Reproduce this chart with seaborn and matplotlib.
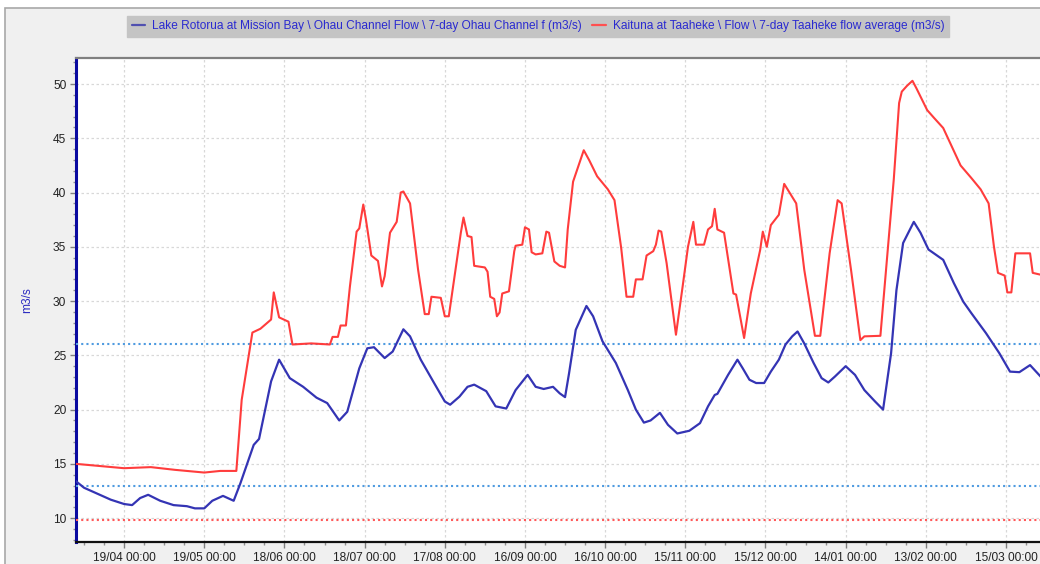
import numpy as np
import pandas as pd
import matplotlib
matplotlib.use("Agg")
import matplotlib.pyplot as plt
import matplotlib.dates as mdates
from matplotlib.patches import Rectangle
from matplotlib.lines import Line2D
import seaborn as sns

# ---------------- data ----------------
start_date = "2017-04-01"

ohau_days = [0, 3, 8, 13, 18, 21, 24, 27, 31.5, 36.5, 41.5, 44.5, 48, 51, 55, 59, 61.5, 66.5, 68.5, 73,
             76, 80, 85, 90, 94, 98.5, 101.5, 106, 109, 111.5, 115.5, 118.5, 122.5, 125, 129, 134, 138,
             140, 143.5, 146.5, 149, 153.5, 157, 161, 164.5, 169, 172, 175, 178.5, 181, 183, 184.5, 187,
             191, 193.5, 197, 202, 206.5, 209.5, 212.5, 215, 218.5, 221.5, 225, 229.5, 233.5, 236.5,
             239, 240, 244, 247.5, 249.5, 252, 254.5, 257.5, 260, 263, 265.5, 268, 270, 272.5, 276, 279,
             281.5, 284, 288, 291.5, 295, 299, 302, 305, 307, 309.5, 313.5, 316, 319, 324.5, 328.5, 332,
             335, 340.5, 345.5, 349.5, 353, 357, 361.5]
ohau_flow = [13.4, 12.8, 12.25, 11.7, 11.3, 11.2, 11.85, 12.15, 11.6, 11.2, 11.1, 10.9, 10.9, 11.6, 12.05,
             11.6, 13.2, 16.75, 17.3, 22.6, 24.6, 22.9, 22.1, 21.1, 20.6, 19.0, 19.8, 23.8, 25.65, 25.75,
             24.75, 25.35, 27.4, 26.75, 24.6, 22.45, 20.75, 20.45, 21.2, 22.1, 22.3, 21.7, 20.3, 20.1,
             21.8, 23.2, 22.1, 21.9, 22.1, 21.5, 21.15, 23.35, 27.35, 29.55, 28.6, 26.3, 24.3, 21.8, 20.0,
             18.8, 19.0, 19.7, 18.6, 17.8, 18.05, 18.75, 20.3, 21.35, 21.45, 23.2, 24.6, 23.8, 22.75,
             22.45, 22.45, 23.5, 24.6, 26.0, 26.75, 27.2, 26.1, 24.3, 22.9, 22.5, 23.05, 24.0, 23.2, 21.8,
             20.75, 20.0, 25.2, 31.0, 35.35, 37.3, 36.3, 34.75, 33.8, 31.65, 29.95, 28.9, 27.05, 25.2,
             23.5, 23.45, 24.1, 22.9]

kaituna_days = [0, 18, 28, 37, 48, 54, 60, 62, 66, 69, 73, 74, 76, 79.5, 81, 88, 95, 96, 98, 99, 101,
                102.5, 105, 106, 107.5, 108.5, 110.5, 113, 114.5, 115.5, 117.5, 120, 121.5, 122.5, 125,
                128, 130.5, 132, 133, 136.5, 138, 139.5, 141.5, 144, 145, 146.5, 148, 149, 153, 154, 155,
                156.5, 157.5, 158.5, 159.5, 162, 164, 164.5, 167, 168, 169.5, 170.5, 172, 174.5, 176, 177,
                179, 181, 183, 184, 186, 190, 192, 195, 199, 201.5, 204, 206, 208.5, 209.5, 212, 213.5,
                216, 217, 218, 219, 221, 224.5, 227, 229, 231, 232, 235, 236.5, 238, 239, 240, 242.5, 246,
                247, 250, 252.5, 256, 257, 258.5, 260, 263, 265, 269.5, 272.5, 276.5, 278.5, 282, 285,
                286.5, 290, 293.5, 295, 301, 303, 306, 308, 309, 311, 313, 314.5, 318.5, 321, 324.5, 328,
                331, 335, 338.5, 341.5, 343.5, 345, 347.5, 348.5, 350, 351.5, 357, 358, 361.5]
kaituna_flow = [15.0, 14.6, 14.7, 14.45, 14.2, 14.35, 14.35, 20.9, 27.1, 27.45, 28.3, 30.8, 28.5, 28.1,
                26.0, 26.1, 26.0, 26.7, 26.7, 27.75, 27.75, 31.35, 36.4, 36.7, 38.9, 37.5, 34.2, 33.7,
                31.35, 32.3, 36.3, 37.3, 40.0, 40.1, 39.0, 32.9, 28.8, 28.8, 30.4, 30.3, 28.6, 28.6, 32.0,
                36.3, 37.7, 36.0, 35.9, 33.25, 33.1, 32.7, 30.4, 30.2, 28.6, 28.95, 30.7, 30.9, 34.6, 35.1,
                35.2, 36.8, 36.6, 34.5, 34.3, 34.4, 36.4, 36.3, 33.65, 33.25, 33.1, 36.6, 41.0, 43.9, 43.0,
                41.5, 40.3, 39.3, 34.9, 30.4, 30.4, 32.0, 32.0, 34.2, 34.6, 35.2, 36.5, 36.4, 33.5, 26.9,
                31.35, 35.0, 37.3, 35.2, 35.2, 36.6, 36.9, 38.5, 36.6, 36.3, 30.7, 30.6, 26.6, 30.7, 34.7,
                36.4, 35.0, 37.0, 37.95, 40.8, 39.0, 32.9, 26.8, 26.8, 34.4, 39.3, 39.0, 32.9, 26.4, 26.75,
                26.8, 32.6, 41.2, 48.25, 49.3, 49.85, 50.3, 49.6, 47.6, 46.9, 45.95, 44.1, 42.5, 41.35,
                40.3, 39.0, 35.0, 32.6, 32.35, 30.8, 30.8, 34.4, 34.4, 32.6, 32.4]

threshold_blue = [26.0, 13.0]
threshold_red = [9.85]

tick_start = "2017-04-19"
tick_step_days = 30
n_ticks = 12

label_ohau = "Lake Rotorua at Mission Bay \\ Ohau Channel Flow \\ 7-day Ohau Channel f (m3/s)"
label_kaituna = "Kaituna at Taaheke \\ Flow \\ 7-day Taaheke flow average (m3/s)"
y_label = "m3/s"

# ---------------- frames ----------------
t0 = pd.Timestamp(start_date)
df_o = pd.DataFrame({"date": t0 + pd.to_timedelta(ohau_days, unit="D"), "flow": ohau_flow})
df_k = pd.DataFrame({"date": t0 + pd.to_timedelta(kaituna_days, unit="D"), "flow": kaituna_flow})

sns.set_theme(style="white")
plt.rcParams["font.family"] = ["Liberation Sans", "DejaVu Sans"]

W, H = 1040, 564
fig = plt.figure(figsize=(W / 100, H / 100), dpi=100, facecolor="white")
# panel background with border
fig.patches.append(Rectangle((5 / W, -0.02), 1 - 5 / W + 0.01, 1 - 8 / H + 0.02, transform=fig.transFigure,
                             facecolor="#f0f0f0", edgecolor="#a8a8a8", linewidth=1.2, zorder=-10))

ax = fig.add_axes([76 / W, 1 - 542 / H, 1 - 76 / W + 0.002, (542 - 58) / H])
ax.set_facecolor("white")

blue_c = "#3434b4"
red_c = "#ff3c3c"
sns.lineplot(data=df_o, x="date", y="flow", ax=ax, color=blue_c, linewidth=1.6, zorder=5)
sns.lineplot(data=df_k, x="date", y="flow", ax=ax, color=red_c, linewidth=1.5, zorder=5)

for v in threshold_blue:
    ax.axhline(v, color="#4f9be0", linestyle=(0, (1, 1.5)), linewidth=1.5, zorder=3)
for v in threshold_red:
    ax.axhline(v, color="#ff5a5a", linestyle=(0, (1, 1.5)), linewidth=1.5, zorder=3)

x_left = t0
x_right = t0 + pd.Timedelta(days=361.5)
ax.set_xlim(x_left, x_right)
ax.set_ylim(7.8, 52.4)

tick_dates = [pd.Timestamp(tick_start) + pd.Timedelta(days=tick_step_days * k) for k in range(n_ticks)]
ax.xaxis.set_major_locator(matplotlib.ticker.FixedLocator(mdates.date2num(tick_dates)))
minor_dates = [pd.Timestamp(tick_start) + pd.Timedelta(days=7.5 * k) for k in range(-3, 4 * n_ticks + 2)]
ax.xaxis.set_minor_locator(matplotlib.ticker.FixedLocator(mdates.date2num(minor_dates)))
ax.xaxis.set_major_formatter(mdates.DateFormatter("%d/%m %H:%M"))
ax.yaxis.set_major_locator(matplotlib.ticker.MultipleLocator(5))
ax.yaxis.set_minor_locator(matplotlib.ticker.MultipleLocator(1))

ax.grid(True, which="major", color="#d8d8d8", linestyle=(0, (2, 2)), linewidth=0.9, zorder=0)
ax.tick_params(axis="both", which="major", length=4, width=1, color="#808080",
               labelsize=8.6, labelcolor="#222222", direction="out", pad=3)
ax.tick_params(axis="both", which="minor", length=2.5, width=1, color="#909090", direction="out")
ax.tick_params(axis="x", which="both", bottom=True)
ax.tick_params(axis="y", which="both", left=True)
ax.set_xlabel("")
ax.set_ylabel(y_label, color="#2a2ac0", fontsize=8.6, labelpad=14)

ax.spines["right"].set_visible(False)
ax.spines["left"].set_color("#0a0aa0")
ax.spines["left"].set_linewidth(2.2)
ax.spines["bottom"].set_color("#111111")
ax.spines["bottom"].set_linewidth(1.6)
ax.spines["top"].set_color("#808080")
ax.spines["top"].set_linewidth(1.6)

handles = [Line2D([], [], color="#5050b0", linewidth=1.6),
           Line2D([], [], color="#ff5050", linewidth=1.6)]
leg = fig.legend(handles, [label_ohau, label_kaituna], loc="center", bbox_to_anchor=(538 / W, 1 - 26.5 / H),
                 ncol=2, fontsize=8.6, frameon=True, fancybox=False, facecolor="#c4c4c4", edgecolor="#c4c4c4",
                 handlelength=1.1, handletextpad=0.6, columnspacing=0.9, borderpad=0.4, framealpha=1)
for t in leg.get_texts():
    t.set_color("#2a2ad0")

fig.savefig("out.png", dpi=100, facecolor=fig.get_facecolor())
